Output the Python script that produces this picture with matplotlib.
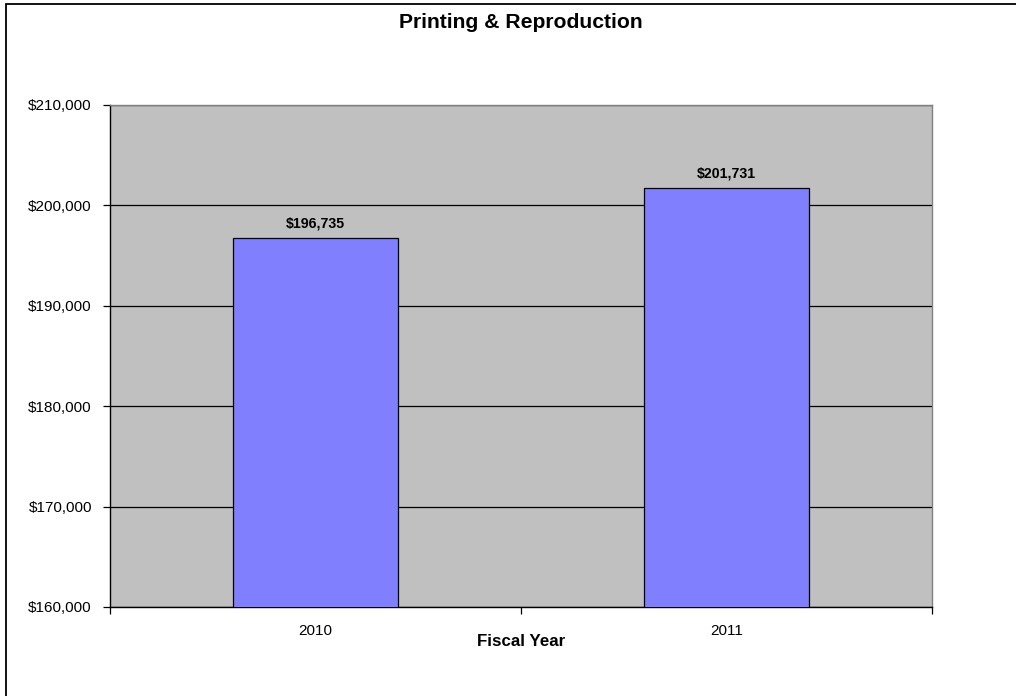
import matplotlib
matplotlib.use("Agg")
import matplotlib.pyplot as plt
from matplotlib.patches import Rectangle
from matplotlib.ticker import FuncFormatter

categories = ["2010", "2011"]
values = [196735, 201731]
y_ticks = [160000, 170000, 180000, 190000, 200000, 210000]

plt.rcParams['font.family'] = ['Liberation Sans', 'DejaVu Sans']

W, H = 1016, 696
fig = plt.figure(figsize=(W / 100, H / 100), dpi=100)
fig.patch.set_facecolor('white')

# outer chart border
fig.patches.append(Rectangle((6 / W, -0.05), 1.2, (H - 4) / H + 0.05, transform=fig.transFigure,
                             fill=False, edgecolor='black', linewidth=1.3))

left, right, top, bottom = 110, 932, 105, 607
ax = fig.add_axes([left / W, 1 - bottom / H, (right - left) / W, (bottom - top) / H])
ax.set_facecolor('#C0C0C0')

x = list(range(len(categories)))
bars = ax.bar(x, values, width=0.4, color='#8080FF', edgecolor='black', linewidth=0.9, zorder=3)

ax.set_xlim(-0.5, len(categories) - 0.5)
ax.set_ylim(y_ticks[0], y_ticks[-1])
ax.set_yticks(y_ticks)
ax.yaxis.set_major_formatter(FuncFormatter(lambda v, p: f"${v:,.0f}"))
ax.grid(axis='y', color='black', linewidth=0.9, zorder=1)
ax.set_axisbelow(True)

# x ticks at category boundaries, labels at centers
ax.set_xticks([i - 0.5 for i in range(len(categories) + 1)])
ax.set_xticklabels([])
ax.set_xticks(x, minor=True)
ax.set_xticklabels(categories, minor=True, fontsize=11)
ax.tick_params(axis='x', which='minor', length=0, pad=12.5)
ax.tick_params(axis='x', which='major', length=5, width=0.9, direction='out')
ax.tick_params(axis='y', length=5, width=0.9, labelsize=11, pad=8)

for sp in ['top', 'right']:
    ax.spines[sp].set_color('#808080')
    ax.spines[sp].set_linewidth(1.0)
for sp in ['left', 'bottom']:
    ax.spines[sp].set_color('black')
    ax.spines[sp].set_linewidth(1.0)

for xi, v in zip(x, values):
    ax.annotate(f"${v:,.0f}", (xi, v), xytext=(0, 5.5), textcoords='offset points',
                ha='center', va='bottom', fontsize=10.2, fontweight='bold')

fig.text((left + right) / 2 / W, 1 - 642 / H, "Fiscal Year", ha='center', va='center',
         fontsize=12.2, fontweight='bold')
fig.text((left + right) / 2 / W, 1 - 22 / H, "Printing & Reproduction", ha='center', va='center',
         fontsize=15.2, fontweight='bold')

fig.savefig("out.png", dpi=100)
